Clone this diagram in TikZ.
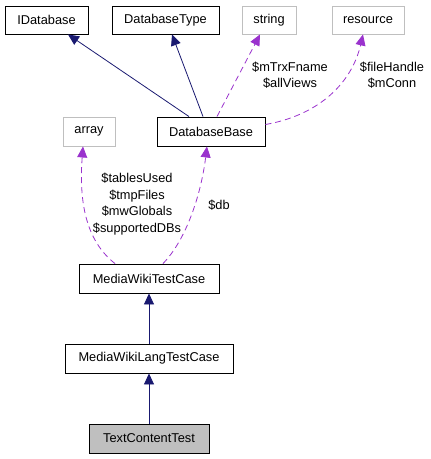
\documentclass[tikz,border=0pt]{standalone}
\usepackage{fontspec}
\setmainfont{Liberation Sans}
\usetikzlibrary{arrows.meta}
\definecolor{navyc}{HTML}{191970}
\definecolor{purc}{HTML}{9A32CD}
\definecolor{grayb}{HTML}{BFBFBF}
\begin{document}
\begin{tikzpicture}[x=1pt,y=-1pt,
  every node/.style={font=\fontsize{12.8}{16.5}\selectfont, inner sep=0pt},
  cls/.style={draw=black, line width=0.9pt, minimum height=28pt, fill=white},
  ext/.style={draw=grayb, line width=0.9pt, minimum height=28pt, fill=white},
  inh/.style={draw=navyc, line width=0.8pt, -{Triangle[length=11pt,width=10pt,fill=navyc]}},
  use/.style={draw=purc, line width=0.8pt, dash pattern=on 6pt off 4pt, -{Triangle[length=11pt,width=10pt,fill=purc]}},
  lbl/.style={align=center}]
\useasboundingbox (0,0) rectangle (431,459);
\node[cls, minimum width=83pt] (idb) at (46.5,20) {IDatabase};
\node[cls, minimum width=107pt] (dbt) at (165.5,20) {DatabaseType};
\node[ext, minimum width=54pt] (str) at (269,20) {string};
\node[ext, minimum width=72pt] (res) at (368,20) {resource};
\node[ext, minimum width=52pt, minimum height=29pt] (arr) at (89,131.5) {array};
\node[cls, minimum width=108pt, minimum height=29pt] (dbb) at (211,131.5) {DatabaseBase};
\node[cls, minimum width=140pt, minimum height=29pt] (mwtc) at (149,278.5) {MediaWikiTestCase};
\node[cls, minimum width=168pt, minimum height=29pt] (mwltc) at (149,358.5) {MediaWikiLangTestCase};
\node[cls, minimum width=120pt, minimum height=29pt, fill=grayb] (tct) at (149,438.5) {TextContentTest};

\draw[inh] ([xshift=-22pt]dbb.north) -- ([xshift=21.5pt]idb.south);
\draw[inh] ([xshift=-8pt]dbb.north) -- ([xshift=6.5pt]dbt.south);
\draw[use] ([xshift=6pt]dbb.north) -- ([xshift=-9pt]str.south);
\draw[use] ([yshift=7pt]dbb.east) .. controls (320,115) and (352,82) .. ([xshift=-5pt]res.south);
\draw[use] ([xshift=-34pt]mwtc.north) .. controls (85,240) and (79,200) .. ([xshift=-6pt]arr.south);
\draw[use] ([xshift=14pt]mwtc.north) .. controls (186,240) and (201,195) .. ([xshift=-4pt]dbb.south);
\draw[inh] (mwltc.north) -- (mwtc.south);
\draw[inh] (tct.north) -- (mwltc.south);

\node[lbl] (l1) at (290,75) {\$mTrxFname\\\$allViews};
\node[lbl] (l2) at (392,75) {\$fileHandle\\\$mConn};
\node[lbl] (l3) at (137,204) {\$tablesUsed\\\$tmpFiles\\\$mwGlobals\\\$supportedDBs};
\node[lbl] (l4) at (219,205) {\$db};
\end{tikzpicture}
\end{document}
